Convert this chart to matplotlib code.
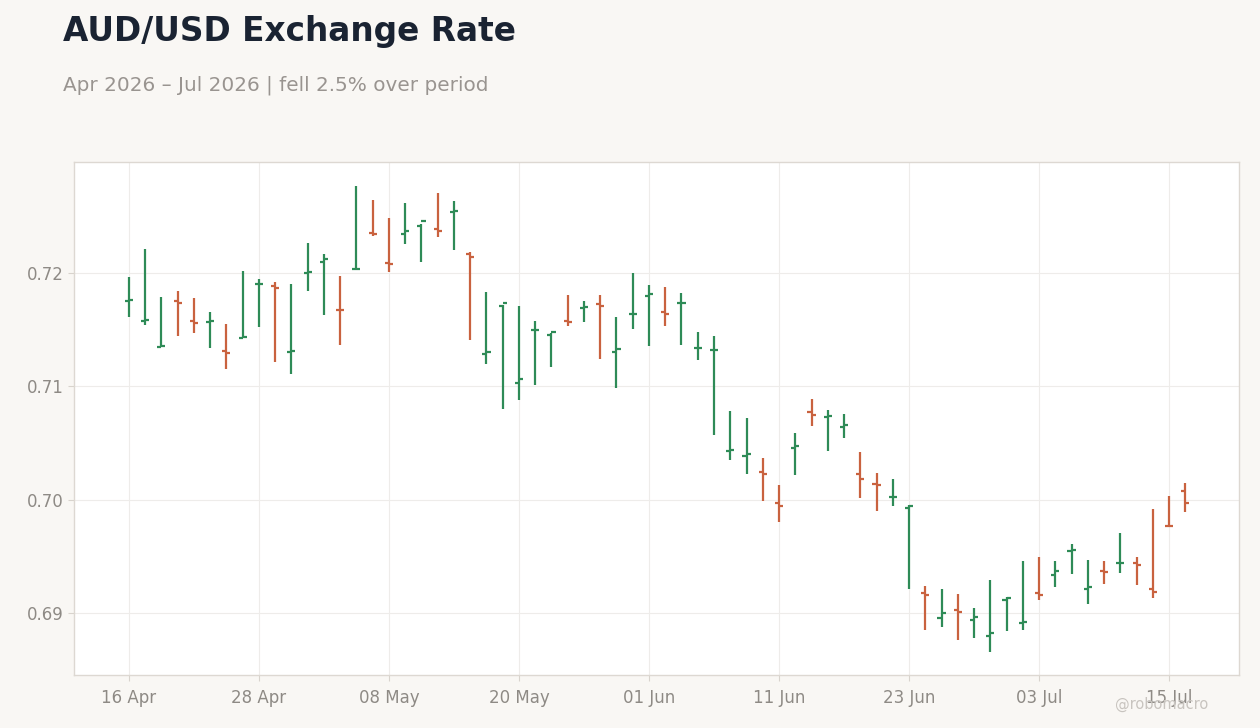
import numpy as np
import pandas as pd
import matplotlib
matplotlib.use("Agg")
import matplotlib.pyplot as plt

# business days 16 Apr 2026 - 16 Jul 2026
dates = pd.bdate_range("2026-04-16", "2026-07-16")

opens = [0.71756, 0.71579, 0.71350, 0.71756, 0.71579, 0.71568, 0.71314, 0.71426, 0.71900, 0.71888,
         0.71306, 0.72003, 0.72100, 0.71678, 0.72038, 0.72356, 0.72088, 0.72347, 0.72417, 0.72391,
         0.72538, 0.72170, 0.71288, 0.71712, 0.71032, 0.71497, 0.71453, 0.71579, 0.71691, 0.71724,
         0.71303, 0.71638, 0.71800, 0.71653, 0.71735, 0.71335, 0.71318, 0.70432, 0.70388, 0.70247,
         0.69973, 0.70459, 0.70771, 0.70729, 0.70641, 0.70229, 0.70141, 0.70025, 0.69929, 0.69179,
         0.68959, 0.69029, 0.68941, 0.68800, 0.69118, 0.68914, 0.69179, 0.69338, 0.69550, 0.69215,
         0.69374, 0.69441, 0.69444, 0.69215, 0.69771, 0.70079]
highs = [0.71962, 0.72212, 0.71788, 0.71841, 0.71779, 0.71656, 0.71550, 0.72018, 0.71944, 0.71918,
         0.71903, 0.72265, 0.72168, 0.71974, 0.72768, 0.72644, 0.72485, 0.72618, 0.72430, 0.72706,
         0.72635, 0.72183, 0.71832, 0.71715, 0.71709, 0.71576, 0.71474, 0.71806, 0.71753, 0.71806,
         0.71612, 0.72000, 0.71894, 0.71876, 0.71824, 0.71479, 0.71444, 0.70782, 0.70721, 0.70368,
         0.70129, 0.70588, 0.70888, 0.70791, 0.70756, 0.70421, 0.70235, 0.70182, 0.69950, 0.69238,
         0.69212, 0.69168, 0.69044, 0.69291, 0.69141, 0.69459, 0.69494, 0.69459, 0.69609, 0.69468,
         0.69459, 0.69706, 0.69494, 0.69918, 0.70032, 0.70147]
lows = [0.71614, 0.71544, 0.71348, 0.71447, 0.71473, 0.71341, 0.71156, 0.71426, 0.71526, 0.71217,
        0.71106, 0.71844, 0.71632, 0.71367, 0.72036, 0.72329, 0.72011, 0.72259, 0.72100, 0.72320,
        0.72206, 0.71411, 0.71200, 0.70803, 0.70879, 0.71012, 0.71173, 0.71535, 0.71570, 0.71244,
        0.70988, 0.71509, 0.71359, 0.71535, 0.71367, 0.71235, 0.70573, 0.70353, 0.70229, 0.69991,
        0.69806, 0.70220, 0.70653, 0.70432, 0.70547, 0.70017, 0.69903, 0.69947, 0.69214, 0.68853,
        0.68879, 0.68764, 0.68782, 0.68659, 0.68844, 0.68853, 0.69118, 0.69232, 0.69347, 0.69076,
        0.69259, 0.69356, 0.69250, 0.69135, 0.69765, 0.69894]
closes = [0.71760, 0.71585, 0.71352, 0.71738, 0.71561, 0.71579, 0.71297, 0.71438, 0.71905, 0.71870,
          0.71312, 0.72011, 0.72126, 0.71676, 0.72040, 0.72347, 0.72079, 0.72373, 0.72461, 0.72373,
          0.72550, 0.72144, 0.71306, 0.71733, 0.71067, 0.71500, 0.71482, 0.71570, 0.71703, 0.71712,
          0.71332, 0.71641, 0.71812, 0.71641, 0.71738, 0.71341, 0.71323, 0.70435, 0.70406, 0.70229,
          0.69947, 0.70476, 0.70750, 0.70735, 0.70656, 0.70182, 0.70132, 0.70028, 0.69947, 0.69162,
          0.69003, 0.69012, 0.68968, 0.68826, 0.69135, 0.68923, 0.69162, 0.69373, 0.69556, 0.69232,
          0.69365, 0.69444, 0.69426, 0.69188, 0.69768, 0.69974]

green = "#2e8b57"
red = "#c9623f"
bg = "#f9f7f4"
grey = "#8e8a85"

x = np.arange(len(dates))
cols = [green if c >= o else red for o, c in zip(opens, closes)]

fig = plt.figure(figsize=(12.6, 7.28), dpi=100, facecolor=bg)
ax = fig.add_axes([0.0587, 0.0728, 0.9246, 0.7047])
ax.set_facecolor("white")

# OHLC bars: high-low line, open tick left, close tick right
ax.vlines(x, lows, highs, colors=cols, linewidth=1.6, zorder=3)
ax.hlines(opens, x - 0.25, x, colors=cols, linewidth=1.6, zorder=3)
ax.hlines(closes, x, x + 0.25, colors=cols, linewidth=1.6, zorder=3)

ax.set_xlim(-3.38, 68.3)
ax.set_ylim(0.68453, 0.7298)
ax.set_yticks([0.69, 0.70, 0.71, 0.72])
ax.set_yticklabels(["0.69", "0.70", "0.71", "0.72"])
tick_idx = x[::8]
ax.set_xticks(tick_idx)
ax.set_xticklabels([dates[i].strftime("%d %b") for i in tick_idx])

ax.grid(True, color="#eeecea", linewidth=0.8, zorder=0)
ax.tick_params(colors="#d8d3cd", labelcolor=grey, labelsize=12, length=4)
ax.tick_params(axis="x", pad=6)
for s in ax.spines.values():
    s.set_color("#ddd8d2")
    s.set_linewidth(1)

fig.text(0.05, 0.979, "AUD/USD Exchange Rate", fontsize=23.6, fontweight="bold",
         color="#1a2332", va="top", ha="left")
fig.text(0.05, 0.896, "Apr 2026 \u2013 Jul 2026 | fell 2.5% over period", fontsize=14.4,
         color="#999490", va="top", ha="left")
fig.text(0.959, 0.032, "@robomacro", fontsize=10.5, color="#c8c4bf", ha="right", va="center")

fig.savefig("out.png", dpi=100, facecolor=bg)
